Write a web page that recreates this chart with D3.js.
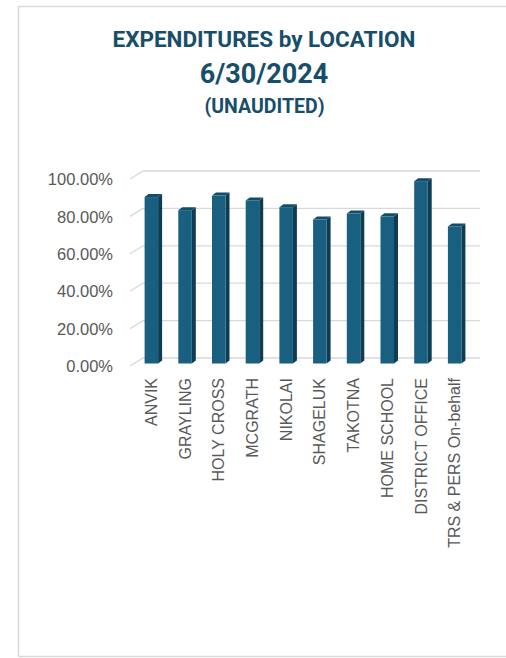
<!DOCTYPE html>
<html><head><meta charset="utf-8">
<script src="https://cdn.jsdelivr.net/npm/d3@7"></script>
<style>html,body{margin:0;padding:0;background:#fff;}svg{display:block;}</style>
</head><body>
<svg id="c" width="506" height="658"></svg>
<script>
const categories = ["ANVIK","GRAYLING","HOLY CROSS","MCGRATH","NIKOLAI","SHAGELUK","TAKOTNA","HOME SCHOOL","DISTRICT OFFICE","TRS & PERS On-behalf"];
const values = [0.890, 0.820, 0.898, 0.872, 0.836, 0.770, 0.802, 0.787, 0.975, 0.733];
const yTicks = [0, 0.2, 0.4, 0.6, 0.8, 1.0];
const titleLines = ["EXPENDITURES by LOCATION", "6/30/2024", "(UNAUDITED)"];

const svg = d3.select("#c");
const W = 506, H = 658;
svg.append("rect").attr("x",18.5).attr("y",6.5).attr("width",W).attr("height",650)
  .attr("fill","#fff").attr("stroke","#d9d9d9").attr("stroke-width",1.5);

const titleColor = "#174e6a";
svg.append("text").attr("x",264).attr("y",47).attr("text-anchor","middle")
  .attr("font-family","Roboto").attr("font-weight","bold").attr("font-size",22.5)
  .attr("fill",titleColor).text(titleLines[0]);
svg.append("text").attr("x",264).attr("y",83).attr("text-anchor","middle")
  .attr("font-family","Roboto").attr("font-weight","bold").attr("font-size",27)
  .attr("fill",titleColor).text(titleLines[1]);
svg.append("text").attr("x",264.5).attr("y",113).attr("text-anchor","middle")
  .attr("font-family","Roboto").attr("font-weight","bold").attr("font-size",19.5)
  .attr("fill",titleColor).text(titleLines[2]);

// back plane scales
const x = d3.scaleBand().domain(categories).range([143,480]).paddingInner(0).paddingOuter(0);
const y = d3.scaleLinear().domain([0,1]).range([358,171]);
const depthX = -13, depthY = 8; // front plane offset from back plane

const grid = svg.append("g");
yTicks.forEach(t => {
  const yy = y(t);
  grid.append("path")
    .attr("d", `M${143+depthX},${yy+depthY} L143,${yy} L480,${yy}`)
    .attr("fill","none").attr("stroke","#d9d9d9").attr("stroke-width",1.3);
});

// y axis labels (front plane)
const yAxis = d3.axisLeft(y).tickValues(yTicks).tickFormat(d3.format(".2%")).tickSize(0).tickPadding(0);
const yg = svg.append("g").attr("transform",`translate(113,${depthY})`).call(yAxis);
yg.select(".domain").remove();
yg.selectAll("text").attr("font-family","Liberation Sans, Arial, sans-serif")
  .attr("font-size",16.5).attr("fill","#595959").attr("dy","0.35em");

// bars
const fw = 13.5, sdx = 4, sdy = -3;
const bars = svg.append("g");
categories.forEach((c,i) => {
  const cx = x(c) + x.bandwidth()/2 - 6.5 - 2; // front face center
  const l = cx - fw/2, r = cx + fw/2;
  const b = y(0) + 5.5;
  const t = y(values[i]) + 5.5;
  bars.append("path").attr("d",`M${r},${t} L${r+sdx},${t+sdy} L${r+sdx},${b+sdy} L${r},${b} Z`)
    .attr("fill","#0e3c52");
  bars.append("path").attr("d",`M${l},${t} L${l+sdx},${t+sdy} L${r+sdx},${t+sdy} L${r},${t} Z`)
    .attr("fill","#124d69");
  bars.append("rect").attr("x",l).attr("y",t).attr("width",fw).attr("height",b-t)
    .attr("fill","#185f80");
});

// x labels
const xAxis = d3.axisBottom(x).tickSize(0).tickPadding(0);
const xg = svg.append("g").attr("transform",`translate(${-8.5},378)`).call(xAxis);
xg.select(".domain").remove();
xg.selectAll("text")
  .attr("font-family","Liberation Sans, Arial, sans-serif").attr("font-size",16)
  .attr("fill","#595959")
  .attr("text-anchor","end").attr("transform","rotate(-90)")
  .attr("x",0).attr("y",0).attr("dx",0).attr("dy","0.35em");
</script>
</body></html>
